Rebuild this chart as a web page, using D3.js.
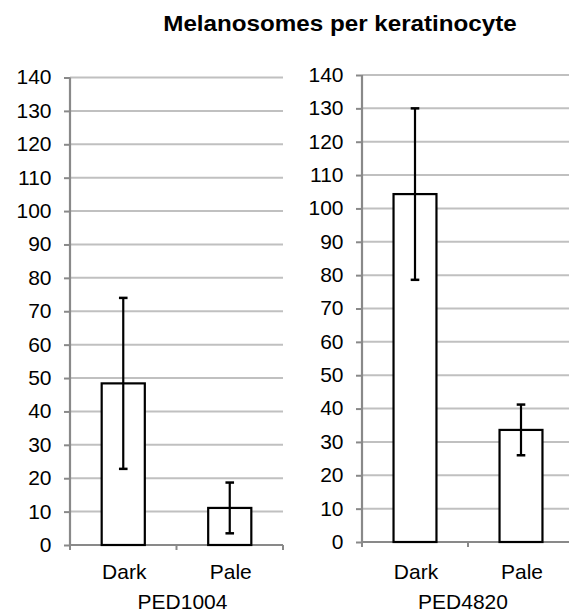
<!DOCTYPE html>
<html><head><meta charset="utf-8">
<script src="https://cdn.jsdelivr.net/npm/d3@7"></script>
<style>
html,body{margin:0;padding:0;background:#fff;}
svg{display:block;font-family:"Liberation Sans",Arial,sans-serif;}
</style></head>
<body>
<svg id="c" width="569" height="615"></svg>
<script>
const title = "Melanosomes per keratinocyte";
const groups = ["PED1004", "PED4820"];
const categories = ["Dark", "Pale"];
const meansPED1004 = [48.4, 11.1];
const errorsPED1004 = [25.6, 7.6];
const meansPED4820 = [104.3, 33.6];
const errorsPED4820 = [25.7, 7.6];
const yTicks = [0,10,20,30,40,50,60,70,80,90,100,110,120,130,140];

const panels = [
  {group: groups[0], means: meansPED1004, errors: errorsPED1004, x0: 70, x1: 283, yBottom: 545, yTop: 77.5, gx: 6},
  {group: groups[1], means: meansPED4820, errors: errorsPED4820, x0: 362, x1: 574, yBottom: 542, yTop: 75, gx: -5}
];

const SX = 1.05; // slight horizontal stretch of glyphs seen in the reference
const svg = d3.select("#c");

function stretchedText(parent, x, y, str, opts) {
  const t = parent.append("text")
    .attr("transform", `translate(${x},${y}) scale(${opts.sx || SX},1)`)
    .attr("text-anchor", opts.anchor || "middle")
    .attr("font-size", opts.size)
    .attr("fill", "#000")
    .text(str);
  if (opts.bold) t.attr("font-weight", "bold");
  return t;
}

stretchedText(svg, 340, 30.5, title, {size: 22, bold: true, sx: 1.1});

panels.forEach(p => {
  const y = d3.scaleLinear().domain([0, 140]).range([p.yBottom, p.yTop]);
  const x = d3.scaleBand().domain(categories).range([p.x0, p.x1]).padding(0);
  const g = svg.append("g");

  // gridlines
  g.selectAll(".grid").data(yTicks.filter(t => t > 0)).enter().append("line")
    .attr("x1", p.x0).attr("x2", p.x1)
    .attr("y1", d => y(d)).attr("y2", d => y(d))
    .attr("stroke", "#c0c0c0").attr("stroke-width", 2);

  // y axis
  const ya = g.append("g").attr("transform", `translate(${p.x0},0)`)
    .call(d3.axisLeft(y).tickValues(yTicks).tickSize(6).tickPadding(12).tickFormat(d3.format("d")));
  ya.select(".domain").attr("stroke", "#898989").attr("stroke-width", 2.2).attr("d", `M0,${p.yBottom+1}V${p.yTop}`);
  ya.selectAll(".tick line").attr("stroke", "#898989").attr("stroke-width", 2);
  ya.selectAll(".tick text")
    .attr("font-size", 20).attr("fill", "#000")
    .attr("font-family", "Liberation Sans, Arial, sans-serif")
    .attr("x", -18.5 / SX)
    .attr("transform", `scale(${SX},1)`);

  // x axis
  const xa = g.append("g").attr("transform", `translate(0,${p.yBottom})`);
  xa.append("line").attr("x1", p.x0).attr("x2", p.x1).attr("y1", 0).attr("y2", 0)
    .attr("stroke", "#898989").attr("stroke-width", 2.2);
  const bounds = [p.x0, x(categories[1]), p.x1];
  xa.selectAll(".xt").data(bounds).enter().append("line")
    .attr("x1", d => d).attr("x2", d => d).attr("y1", 0).attr("y2", 5)
    .attr("stroke", "#898989").attr("stroke-width", 2);

  // bars
  const bw = x.bandwidth() * 0.405;
  const data = categories.map((c, i) => ({c, m: p.means[i], e: p.errors[i]}));
  g.selectAll(".bar").data(data).enter().append("rect")
    .attr("x", d => x(d.c) + x.bandwidth()/2 - bw/2)
    .attr("y", d => y(d.m))
    .attr("width", bw)
    .attr("height", d => y(0) - y(d.m))
    .attr("fill", "#fff").attr("stroke", "#000").attr("stroke-width", 2.2);

  // error bars
  const cap = 4.3;
  data.forEach(d => {
    const cx = x(d.c) + x.bandwidth()/2;
    g.append("line").attr("x1", cx).attr("x2", cx).attr("y1", y(d.m + d.e)).attr("y2", y(d.m - d.e))
      .attr("stroke", "#000").attr("stroke-width", 2.2);
    [d.m + d.e, d.m - d.e].forEach(v => {
      g.append("line").attr("x1", cx - cap).attr("x2", cx + cap).attr("y1", y(v)).attr("y2", y(v))
        .attr("stroke", "#000").attr("stroke-width", 2.5);
    });
  });

  // category labels
  categories.forEach(c => {
    stretchedText(g, x(c) + x.bandwidth()/2 + 1, 579, c, {size: 20});
  });

  stretchedText(g, (p.x0 + p.x1)/2 + p.gx, 609, p.group, {size: 20});
});
</script>
</body></html>
